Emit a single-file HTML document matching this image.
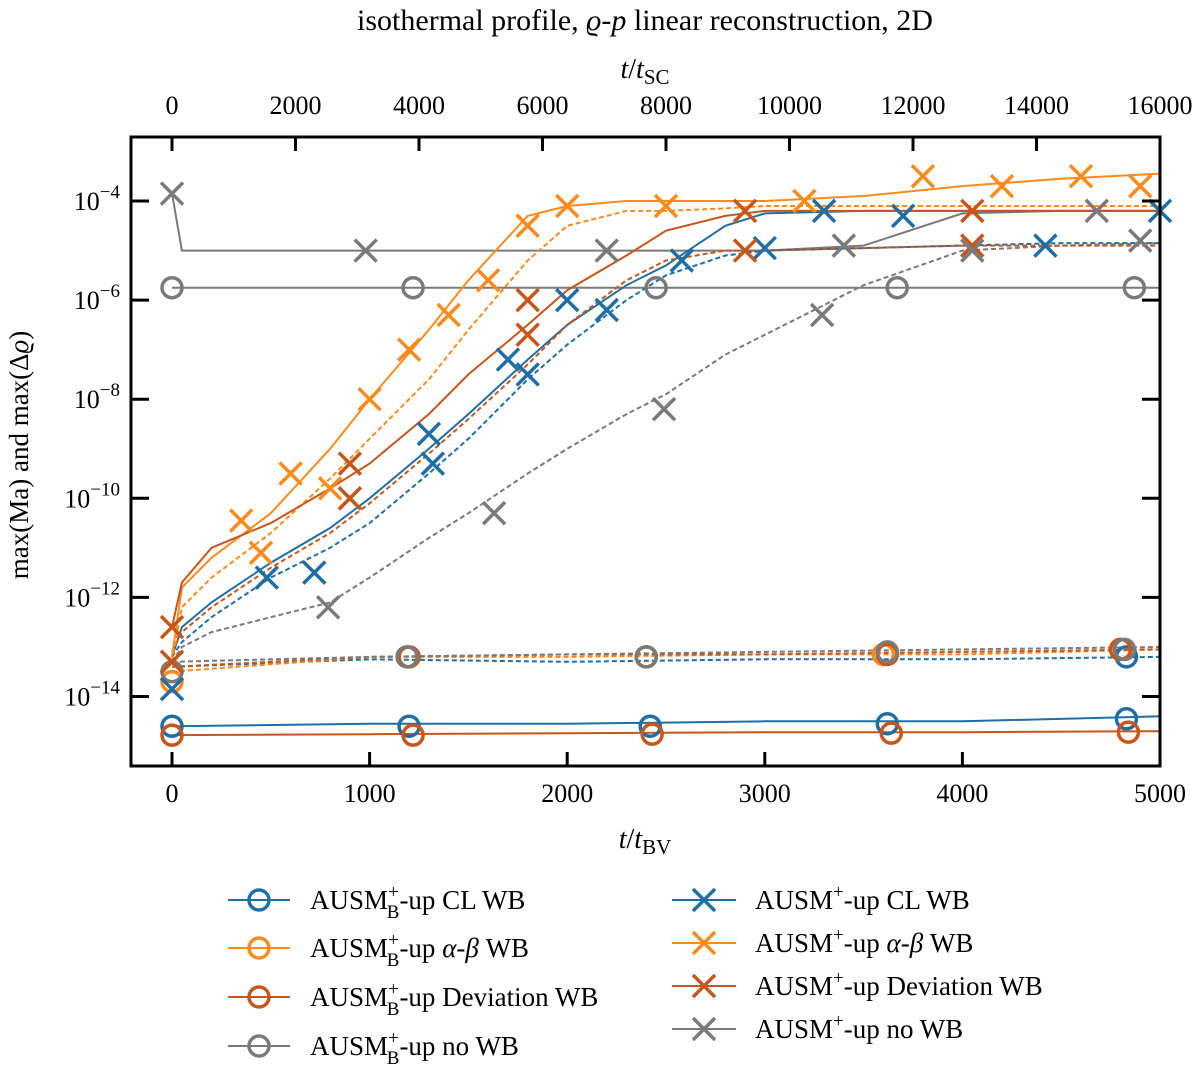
<!DOCTYPE html>
<html><head><meta charset="utf-8"><style>
body{margin:0;background:#fff}
svg text{font-family:"Liberation Serif",serif;fill:#000}
</style></head><body>
<svg id="c" width="1200" height="1069" xmlns="http://www.w3.org/2000/svg">
<text x="645" y="30" font-size="30" text-anchor="middle">isothermal profile, <tspan font-style="italic">ϱ</tspan>-<tspan font-style="italic">p</tspan> linear reconstruction, 2D</text>
<text x="645" y="78" font-size="28" text-anchor="middle"><tspan font-style="italic">t</tspan>/<tspan font-style="italic">t</tspan><tspan font-size="21" dy="6">SC</tspan></text>
<text x="645" y="848" font-size="28" text-anchor="middle"><tspan font-style="italic">t</tspan>/<tspan font-style="italic">t</tspan><tspan font-size="21" dy="6">BV</tspan></text>
<text transform="translate(28,455) rotate(-90)" font-size="27" text-anchor="middle">max(Ma) and max(Δ<tspan font-style="italic">ϱ</tspan>)</text>
<g id="plot"></g>
<rect x="131" y="137" width="1029" height="629" fill="none" stroke="#000" stroke-width="3"/>
<g id="legend"></g>
</svg>
<script>
const NS="http://www.w3.org/2000/svg";
const xTicks=[0,1000,2000,3000,4000,5000];
const topTicks=[0,2000,4000,6000,8000,10000,12000,14000,16000];
const yTicks=[-4,-6,-8,-10,-12,-14];
const colors={blue:"#1f6fa6",orange:"#ff8a1c",dark:"#c8561a",grey:"#7a7a7a"};
const tFlat=[0,1000,2000,3000,4000,5000];
const bCLsolid=[-14.6,-14.55,-14.55,-14.5,-14.5,-14.4];
const bCLdash=[-13.4,-13.25,-13.3,-13.25,-13.25,-13.2];
const bABdash=[-13.5,-13.2,-13.2,-13.15,-13.15,-13.05];
const bDevsolid=[-14.78,-14.76,-14.74,-14.72,-14.72,-14.7];
const bDevdash=[-13.4,-13.2,-13.15,-13.15,-13.1,-13.05];
const bNosolid=[-5.75,-5.75,-5.75,-5.75,-5.75,-5.75];
const bNodash=[-13.3,-13.2,-13.15,-13.1,-13.05,-13.0];
const tGrow=[0,50,200,500,800,1000,1300,1500,1800,2000,2300,2500,2800,3000,3500,4000,4500,5000];
const cwSolid=[-13.2,-12.6,-12.1,-11.3,-10.6,-10.0,-9.0,-8.3,-7.2,-6.5,-5.7,-5.3,-4.5,-4.25,-4.2,-4.2,-4.2,-4.2];
const cwDash=[-13.2,-12.9,-12.4,-11.6,-11.0,-10.5,-9.5,-8.8,-7.6,-6.9,-6.0,-5.5,-5.1,-5.0,-4.95,-4.9,-4.85,-4.85];
const abSolid=[-13.2,-11.8,-11.2,-10.3,-9.0,-8.0,-6.6,-5.6,-4.3,-4.1,-4.0,-4.0,-4.0,-4.0,-3.9,-3.7,-3.55,-3.45];
const abDash=[-13.3,-12.2,-11.6,-10.7,-9.6,-8.8,-7.6,-6.6,-5.2,-4.5,-4.2,-4.2,-4.15,-4.1,-4.1,-4.1,-4.1,-4.1];
const devSolid=[-12.6,-11.7,-11.0,-10.5,-9.8,-9.3,-8.3,-7.5,-6.5,-5.8,-5.1,-4.6,-4.3,-4.2,-4.2,-4.2,-4.2,-4.2];
const devDash=[-13.1,-12.7,-12.2,-11.4,-10.7,-10.1,-9.1,-8.4,-7.3,-6.5,-5.6,-5.2,-5.0,-5.0,-4.95,-4.9,-4.9,-4.9];
const noSolid=[-3.85,-5.0,-5.0,-5.0,-5.0,-5.0,-5.0,-5.0,-5.0,-5.0,-5.0,-5.0,-5.0,-5.0,-4.9,-4.25,-4.2,-4.2];
const noDash=[-13.3,-13.0,-12.7,-12.4,-12.1,-11.6,-10.8,-10.3,-9.5,-9.0,-8.3,-7.9,-7.1,-6.7,-5.7,-5.0,-4.9,-4.85];
const mBCL=[[0,-14.6],[1200,-14.6],[2420,-14.6],[3620,-14.55],[4830,-14.45],[4830,-13.2]];
const mBAB=[[0,-13.7],[1190,-13.2],[2400,-13.2],[3600,-13.15],[4800,-13.05]];
const mBDev=[[0,-14.78],[1220,-14.78],[2430,-14.76],[3640,-14.74],[4840,-14.72],[1200,-13.2],[2400,-13.2],[3620,-13.15],[4800,-13.05]];
const mBNo=[[0,-5.75],[1220,-5.75],[2450,-5.75],[3670,-5.75],[4870,-5.75],[0,-13.5],[1190,-13.2],[2400,-13.2],[3620,-13.1],[4820,-13.05]];
const mCW=[[0,-13.85],[0,-13.3],[480,-11.6],[720,-11.5],[900,-10.0],[1300,-8.7],[1320,-9.3],[1700,-7.2],[1800,-7.5],[2000,-6.0],[2200,-6.2],[2580,-5.2],[3000,-4.95],[3300,-4.2],[3700,-4.3],[4420,-4.9],[5000,-4.2]];
const mAB=[[0,-13.3],[350,-10.45],[450,-11.1],[600,-9.5],[800,-9.8],[1000,-8.0],[1200,-7.0],[1400,-6.3],[1600,-5.6],[1800,-4.5],[2000,-4.1],[2500,-4.1],[3200,-4.0],[3800,-3.5],[4200,-3.7],[4600,-3.5],[4900,-3.7]];
const mDev=[[0,-12.6],[0,-13.3],[900,-9.3],[900,-10.0],[1800,-6.0],[1800,-6.7],[2900,-4.2],[2900,-5.0],[4050,-4.9],[4050,-4.2]];
const mNo=[[0,-3.85],[980,-5.0],[2200,-5.0],[3400,-4.9],[4680,-4.2],[790,-12.2],[1630,-10.3],[2490,-8.2],[3290,-6.3],[4050,-5.0],[4900,-4.8]];

const X=t=>172+t*(988/5000), XT=t=>172+t*(988/16000), Y=v=>201-(v+4)*49.55;
const plot=document.getElementById('plot');
function el(tag,attrs,parent){const e=document.createElementNS(NS,tag);for(const k in attrs)e.setAttribute(k,attrs[k]);(parent||plot).appendChild(e);return e;}
function line(ts,vs,col,dash,name){
  const e=el('polyline',{points:ts.map((t,i)=>X(t).toFixed(1)+','+Y(vs[i]).toFixed(1)).join(' '),fill:'none',stroke:col,'stroke-width':2,'stroke-dasharray':dash?'5,3':'none'});
  
  
}
function marker(cx,cy,col,kind,parent,name){
  let e;
  if(kind==='o'){e=el('circle',{cx:cx,cy:cy,r:10,fill:'none',stroke:col,'stroke-width':3.5},parent);}
  else{e=el('path',{d:`M${cx-11},${cy-11}L${cx+11},${cy+11}M${cx-11},${cy+11}L${cx+11},${cy-11}`,stroke:col,'stroke-width':3.5,fill:'none'},parent);}
  
  
}
line(tFlat,bCLsolid,colors.blue,false,'line-b-cl-ma');line(tFlat,bCLdash,colors.blue,true,'line-b-cl-drho');
line(tFlat,bABdash,colors.orange,true,'line-b-ab-drho');
line(tFlat,bDevsolid,colors.dark,false,'line-b-dev-ma');line(tFlat,bDevdash,colors.dark,true,'line-b-dev-drho');
line(tFlat,bNosolid,colors.grey,false,'line-b-no-ma');line(tFlat,bNodash,colors.grey,true,'line-b-no-drho');
line(tGrow,noDash,colors.grey,true,'line-no-drho');line(tGrow,noSolid,colors.grey,false,'line-no-ma');
line(tGrow,cwDash,colors.blue,true,'line-cl-drho');line(tGrow,cwSolid,colors.blue,false,'line-cl-ma');
line(tGrow,devDash,colors.dark,true,'line-dev-drho');
line(tGrow,abDash,colors.orange,true,'line-ab-drho');line(tGrow,abSolid,colors.orange,false,'line-ab-ma');
line(tGrow,devSolid,colors.dark,false,'line-dev-ma');
[[mBCL,colors.blue,'o'],[mBAB,colors.orange,'o'],[mBDev,colors.dark,'o'],[mBNo,colors.grey,'o'],[mCW,colors.blue,'x'],[mAB,colors.orange,'x'],[mDev,colors.dark,'x'],[mNo,colors.grey,'x']].forEach(([m,c,k])=>m.forEach(p=>marker(X(p[0]),Y(p[1]),c,k,plot,'marker')));
xTicks.forEach(t=>{el('line',{x1:X(t),x2:X(t),y1:766,y2:752,stroke:'#000','stroke-width':3});
 const tx=el('text',{x:X(t),y:802,'font-size':26,'text-anchor':'middle'});tx.textContent=t;
 
 });
topTicks.forEach(t=>{el('line',{x1:XT(t),x2:XT(t),y1:137,y2:151,stroke:'#000','stroke-width':3});
 const tx=el('text',{x:XT(t),y:114,'font-size':26,'text-anchor':'middle'});tx.textContent=t;
 
 });
yTicks.forEach(v=>{el('line',{x1:131,x2:149,y1:Y(v),y2:Y(v),stroke:'#000','stroke-width':3});
 el('line',{x1:1160,x2:1142,y1:Y(v),y2:Y(v),stroke:'#000','stroke-width':3});
 const tx=el('text',{x:120,y:Y(v)+9,'font-size':26,'text-anchor':'end'});
 tx.innerHTML='10<tspan dy="-12" font-size="19">'+(v<0?'−':'')+Math.abs(v)+'</tspan>';
 
 });
const lg=document.getElementById('legend');
const legL=[['CL WB',colors.blue],['<tspan font-style="italic">α</tspan>-<tspan font-style="italic">β</tspan> WB',colors.orange],['Deviation WB',colors.dark],['no WB',colors.grey]];
const legLy=[900,948,997,1046], legRy=[900,943,986,1029];
legL.forEach((d,i)=>{const y=legLy[i];
 el('line',{x1:228,x2:290,y1:y,y2:y,stroke:d[1],'stroke-width':2},lg);
 marker(259,y,d[1],'o',lg,'legend-marker');
 const t=el('text',{x:310,y:y+9,'font-size':27},lg);
 t.innerHTML='AUSM<tspan dy="-11" font-size="19">+</tspan><tspan dx="-12" dy="20" font-size="19">B</tspan><tspan dy="-9">-up '+d[0]+'</tspan>';
 
 
 const y2=legRy[i];
 el('line',{x1:672,x2:736,y1:y2,y2:y2,stroke:d[1],'stroke-width':2},lg);
 marker(704,y2,d[1],'x',lg,'legend-marker');
 const t2=el('text',{x:755,y:y2+9,'font-size':27},lg);
 t2.innerHTML='AUSM<tspan dy="-11" font-size="19">+</tspan><tspan dy="11">-up '+d[0]+'</tspan>';
 
 
});
</script>
</body></html>
